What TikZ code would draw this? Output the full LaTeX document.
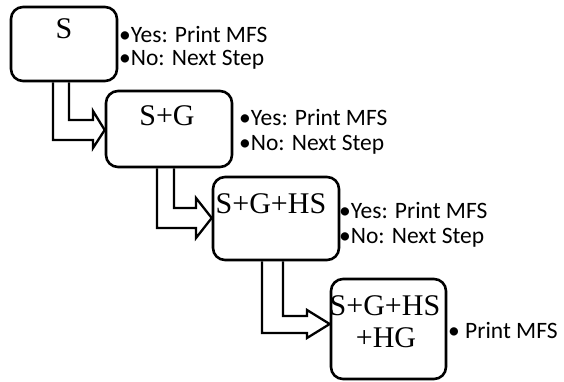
\documentclass[tikz,border=0pt]{standalone}
\usepackage{fontspec}
\setmainfont{Liberation Serif}
\newfontfamily\notefont{Carlito}
\usetikzlibrary{positioning}

\tikzset{
  stepbox/.style={draw, line width=2.6pt, rounded corners=12pt, inner sep=0pt},
  steptext/.style={inner sep=0pt, anchor=base, font=\fontsize{30}{35}\selectfont},
  note/.style={inner sep=0pt, anchor=base west, font=\notefont\fontsize{23.5}{28}\selectfont},
  fat/.style={line width=2.3pt, line join=miter}
}

\begin{document}
\begin{tikzpicture}[x=1pt, y=-1pt]
            \useasboundingbox (0,0) rectangle (564,381);

            % boxes
            \node[stepbox, minimum width=106pt, minimum height=74pt] (b1) at (64,44) {};
            \node[stepbox, minimum width=126pt, minimum height=76pt] (b2) at (169,129) {};
            \node[stepbox, minimum width=126pt, minimum height=83pt] (b3) at (276,218.5) {};
            \node[stepbox, minimum width=115pt, minimum height=100pt] (b4) at (388.5,329) {};

            % box texts
            \node[steptext] (t1) at (64,38) {S};
            \node[steptext] (t2) at (167,125) {S+G};
            \node[steptext] (t3) at (271,213) {S+G+HS};
            \node[steptext] (t4) at (385,315) {S+G+HS};
            \node[steptext] (t5) at (386,347) {+HG};

            % notes
            \node[note] (n1) at (119,42) {•Yes: Print MFS};
            \node[note] (n2) at (119,65) {•No: Next Step};
            \node[note] (n3) at (239,125) {•Yes: Print MFS};
            \node[note] (n4) at (239,150) {•No: Next Step};
            \node[note] (n5) at (339,218) {•Yes: Print MFS};
            \node[note] (n6) at (339,243) {•No: Next Step};
            \node[note] (n7) at (448,338) {• Print MFS};

            % bent arrows
            \draw[fat] (b1.south -| 53,0) -- (53,140) -- (93,140) -- (93,148)
                -- (b2.west |- 0,130) -- (93,111) -- (93,120) -- (69,120) -- (b1.south -| 69,0);
            \draw[fat] (b2.south -| 157,0) -- (157,228) -- (196,228) -- (196,238)
                -- (b3.west |- 0,218) -- (196,198) -- (196,208) -- (174,208) -- (b2.south -| 174,0);
            \draw[fat] (b3.south -| 262,0) -- (262,333) -- (307,333) -- (307,338)
                -- (b4.west |- 0,324) -- (307,310) -- (307,316) -- (283,316) -- (b3.south -| 283,0);

\end{tikzpicture}
\end{document}
